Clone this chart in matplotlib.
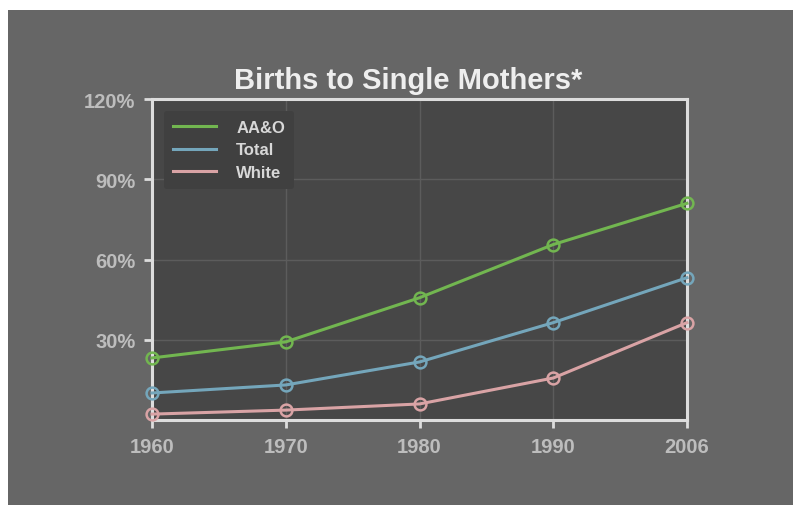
import matplotlib.pyplot as plt
from matplotlib.patches import Rectangle
from matplotlib.lines import Line2D

years = ["1960", "1970", "1980", "1990", "2006"]
aao = [23.2, 29.2, 45.7, 65.6, 81.0]
total = [10.1, 13.1, 21.7, 36.4, 53.2]
white = [2.2, 3.7, 6.0, 15.7, 36.4]

series = [("AA&O", aao, "#72b650"), ("Total", total, "#74a6bb"), ("White", white, "#d9a3a5")]

plt.rcParams["font.family"] = ["Liberation Sans", "DejaVu Sans"]
plt.rcParams["font.weight"] = "bold"

fig = plt.figure(figsize=(7.93, 5.06), dpi=100)
fig.patch.set_facecolor("white")
fig.patches.append(Rectangle((8 / 793, 0), 1, (506 - 11) / 506, transform=fig.transFigure,
                             facecolor="#666666", edgecolor="none", zorder=-10))

ax = fig.add_axes([152 / 793, (506 - 421) / 506, (687 - 152) / 793, (421 - 100) / 506])
ax.set_facecolor("#474747")

x = list(range(len(years)))
handles = []
for name, vals, col in series:
    ax.plot(x, vals, color=col, lw=2.2, marker="o", ms=8.5, mfc="none", mew=1.8,
            clip_on=False, zorder=3)
    handles.append(Line2D([], [], color=col, lw=2.2, label=name))

ax.set_xlim(0, len(years) - 1)
ax.set_ylim(0, 120)
ax.set_xticks(x)
ax.set_xticklabels(years)
ax.set_yticks([30, 60, 90, 120])
ax.set_yticklabels(["30%", "60%", "90%", "120%"])
ax.grid(True, color="#5c5c5c", lw=1)
ax.set_axisbelow(True)

for s in ax.spines.values():
    s.set_color("#dddddd")
    s.set_linewidth(2.2)
ax.tick_params(colors="#dddddd", width=2, length=6, labelcolor="#bdbdbd", labelsize=14.5, pad=6)

fig.text(408 / 793, (506 - 81) / 506, "Births to Single Mothers*", ha="center", va="center",
         fontsize=21, fontweight="bold", color="#eeeeee")

leg = ax.legend(handles=handles, loc="upper left", bbox_to_anchor=(0.0, 1.0), frameon=True,
                fontsize=12, handlelength=2.6, handletextpad=1.2, labelspacing=0.45,
                borderpad=0.55, borderaxespad=0.7)
leg.get_frame().set_facecolor("#404040")
leg.get_frame().set_edgecolor("none")
leg.get_frame().set_alpha(1)
for t in leg.get_texts():
    t.set_color("#d8d8d8")

fig.savefig("out.png", dpi=100, facecolor=fig.get_facecolor())
